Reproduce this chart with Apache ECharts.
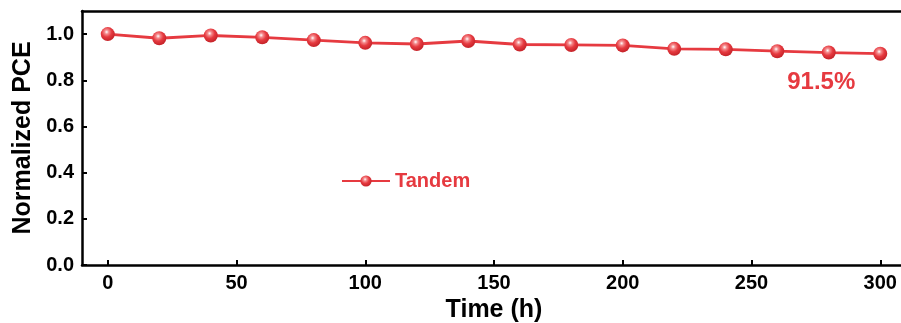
<!DOCTYPE html>
<html>
<head>
<meta charset="utf-8">
<script src="https://cdn.jsdelivr.net/npm/echarts@6/dist/echarts.min.js"></script>
<style>html,body{margin:0;padding:0;background:#fff}#c{width:901px;height:323px}</style>
</head>
<body>
<div id="c"></div>
<script>
const timeHours = [0, 20, 40, 60, 80, 100, 120, 140, 160, 180, 200, 220, 240, 260, 280, 300];
const tandemPCE = [1.000, 0.982, 0.994, 0.986, 0.974, 0.962, 0.957, 0.970, 0.955, 0.953, 0.951, 0.936, 0.934, 0.926, 0.920, 0.915];
const xTicks = [0, 50, 100, 150, 200, 250, 300];
const yTicks = [0, 0.2, 0.4, 0.6, 0.8, 1.0];
const seriesName = 'Tandem';
const finalLabel = '91.5%';

const RED = '#e63a40';
const FONT = '"Liberation Sans", Arial, sans-serif';
const sphere = new echarts.graphic.RadialGradient(0.42, 0.35, 0.6, [
  {offset: 0, color: '#ffffff'},
  {offset: 0.25, color: '#f48a8c'},
  {offset: 0.6, color: RED},
  {offset: 1, color: '#c9262c'}
]);

const chart = echarts.init(document.getElementById('c'), null, {renderer: 'canvas'});
const data = timeHours.map((t, i) => {
  const d = {value: [t, tandemPCE[i]]};
  if (i === timeHours.length - 1) {
    d.label = {
      show: true, formatter: finalLabel, position: 'bottom',
      offset: [-59, 5], color: RED, fontSize: 24, fontWeight: 'bold', fontFamily: FONT
    };
  }
  return d;
});

chart.setOption({
  animation: false,
  backgroundColor: '#fff',
  grid: {left: 82, top: 11, width: 824, bottom: 58, containLabel: false, outerBoundsMode: 'none'},
  legend: {
    left: 336, top: 166,
    itemWidth: 48, itemHeight: 14,
    textStyle: {color: RED, fontSize: 20, fontWeight: 'bold', fontFamily: FONT},
    data: [seriesName]
  },
  xAxis: [{
    type: 'value', min: -10, max: 310,
    name: 'Time (h)', nameLocation: 'middle', nameGap: 17,
    nameTextStyle: {fontSize: 25, fontWeight: 'bold', color: '#000', fontFamily: FONT},
    axisLine: {show: true, onZero: false, lineStyle: {color: '#000', width: 2.5}},
    axisTick: {show: true, inside: true, length: 5, customValues: xTicks, lineStyle: {color: '#000', width: 2}},
    axisLabel: {customValues: xTicks, margin: 8, color: '#000', fontSize: 20, fontWeight: 'bold', fontFamily: FONT},
    splitLine: {show: false}
  }, {
    type: 'value', min: -10, max: 310, position: 'top',
    axisLine: {show: true, onZero: false, lineStyle: {color: '#000', width: 2.5}},
    axisTick: {show: false}, axisLabel: {show: false}, splitLine: {show: false}
  }],
  yAxis: {
    type: 'value', min: 0, max: 1.1,
    name: 'Normalized PCE', nameLocation: 'middle', nameGap: 43,
    nameTextStyle: {fontSize: 25, fontWeight: 'bold', color: '#000', fontFamily: FONT},
    axisLine: {show: true, onZero: false, lineStyle: {color: '#000', width: 2.5}},
    axisTick: {show: true, inside: true, length: 5, customValues: yTicks, lineStyle: {color: '#000', width: 2}},
    axisLabel: {customValues: yTicks, margin: 8, color: '#000', fontSize: 20, fontWeight: 'bold', fontFamily: FONT,
      formatter: v => v.toFixed(1)},
    splitLine: {show: false}
  },
  series: [{
    name: seriesName, type: 'line', data: data,
    symbol: 'circle', symbolSize: 14,
    lineStyle: {color: RED, width: 2.8},
    itemStyle: {color: sphere, borderWidth: 0},
    z: 3
  }]
});
</script>
</body>
</html>
